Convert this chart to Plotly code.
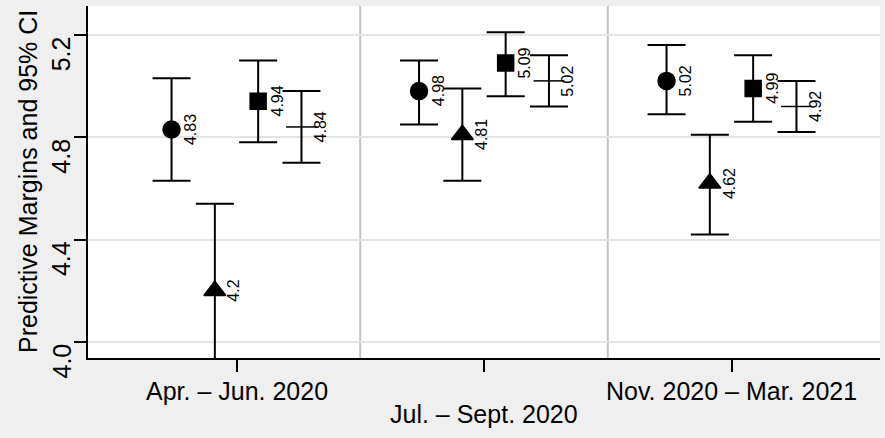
import plotly.graph_objects as go

periods = ["Apr. – Jun. 2020", "Jul. – Sept. 2020", "Nov. 2020 – Mar. 2021"]
label_rows = [0, 1, 0]

series_names = ["Group A", "Group B", "Group C", "Group D"]
symbols = ["circle", "triangle-up", "square", "line-ew"]
marker_sizes = [17, 19, 16, 22]
offsets = [-0.2625, -0.0875, 0.0875, 0.2625]

margins = [
    [4.83, 4.98, 5.02],
    [4.20, 4.81, 4.62],
    [4.94, 5.09, 4.99],
    [4.84, 5.02, 4.92],
]
ci_low = [
    [4.63, 4.85, 4.89],
    [3.86, 4.63, 4.42],
    [4.78, 4.96, 4.86],
    [4.70, 4.92, 4.82],
]
ci_high = [
    [5.03, 5.10, 5.16],
    [4.54, 4.99, 4.81],
    [5.10, 5.21, 5.12],
    [4.98, 5.12, 5.02],
]

y_ticks = [4.0, 4.4, 4.8, 5.2]
y_tick_labels = ["4.0", "4.4", "4.8", "5.2"]
y_title = "Predictive Margins and 95% CI"

FONT = "Liberation Sans, Arial, sans-serif"

fig = go.Figure()
annotations = []
for s, name in enumerate(series_names):
    xs = [i + 1 + offsets[s] for i in range(len(periods))]
    ys = margins[s]
    plus = [h - m for h, m in zip(ci_high[s], ys)]
    minus = [m - l for m, l in zip(ys, ci_low[s])]
    fig.add_trace(go.Scatter(
        x=xs, y=ys, mode="markers", name=name, showlegend=False,
        marker=dict(symbol=symbols[s], size=marker_sizes[s], color="black",
                    line=dict(color="black", width=1.5)),
        error_y=dict(type="data", array=plus, arrayminus=minus, symmetric=False,
                     color="black", thickness=2, width=19),
    ))
    for x, y in zip(xs, ys):
        annotations.append(dict(
            x=x, y=y, xref="x", yref="y", text=f"{y:g}", showarrow=False,
            textangle=-90, xanchor="center", yanchor="middle", xshift=19,
            font=dict(family=FONT, size=16, color="black"),
        ))

# staggered category labels
for i, (lab, row) in enumerate(zip(periods, label_rows)):
    annotations.append(dict(
        x=i + 1, y=0, xref="x", yref="paper", text=lab, showarrow=False,
        xanchor="center", yanchor="middle", yshift=-33 - 23 * row,
        font=dict(family=FONT, size=25, color="black"),
    ))

# y tick labels (rotated, hanging below their tick)
for v, lab in zip(y_ticks, y_tick_labels):
    annotations.append(dict(
        x=0, y=v, xref="paper", yref="y", text=lab, showarrow=False,
        textangle=-90, xanchor="center", yanchor="top", xshift=-27,
        font=dict(family=FONT, size=25, color="black"),
    ))

# y-axis title
annotations.append(dict(
    x=0, y=0.5, xref="paper", yref="paper", text=y_title, showarrow=False,
    textangle=-90, xanchor="center", yanchor="middle", xshift=-60,
    font=dict(family=FONT, size=25, color="black"),
))

shapes = []
for i in range(len(periods) - 1):
    shapes.append(dict(type="line", xref="x", yref="paper", x0=i + 1.5, x1=i + 1.5,
                       y0=0, y1=1, line=dict(color="#c4c4c4", width=2), layer="below"))

fig.update_layout(
    width=885, height=438,
    paper_bgcolor="#efefef", plot_bgcolor="white",
    margin=dict(l=88, r=5, t=6, b=80),
    font=dict(family=FONT, color="black"),
    annotations=annotations,
    shapes=shapes,
    xaxis=dict(
        range=[0.4, 3.6], tickvals=[1, 2, 3], showticklabels=False,
        ticks="outside", ticklen=12, tickwidth=2, tickcolor="black",
        showline=True, linecolor="black", linewidth=2,
        showgrid=False, zeroline=False, automargin=False,
    ),
    yaxis=dict(
        range=[3.9375, 5.3125], tickvals=y_ticks, showticklabels=False,
        ticks="outside", ticklen=12, tickwidth=2, tickcolor="black",
        showline=True, linecolor="black", linewidth=2,
        showgrid=True, gridcolor="#e4e4e4", gridwidth=2, zeroline=False,
        automargin=False,
    ),
)

fig.write_html("out.html")
